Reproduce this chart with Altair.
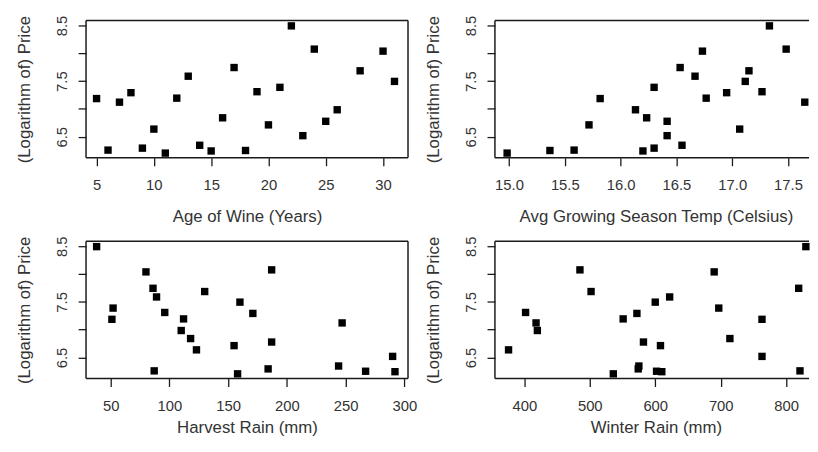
import altair as alt
import pandas as pd

# Bordeaux wine data
price = [7.4950, 8.0393, 7.6858, 6.9845, 6.7772, 8.0757, 6.5188, 8.4937, 7.3880, 6.7127,
         7.3094, 6.2518, 7.7443, 6.8398, 6.2435, 6.3459, 7.5883, 7.1934, 6.2049, 6.6367,
         6.2941, 7.2920, 7.1211, 6.2587, 7.1860]
age = [31, 30, 28, 26, 25, 24, 23, 22, 21, 20, 19, 18, 17, 16, 15, 14, 13, 12, 11, 10, 9, 8, 7, 6, 5]
agst = [17.1167, 16.7333, 17.1500, 16.1333, 16.4167, 17.4833, 16.4167, 17.3333, 16.3000, 15.7167,
        17.2667, 15.3667, 16.5333, 16.2333, 16.2000, 16.5500, 16.6667, 16.7667, 14.9833, 17.0667,
        16.3000, 16.9500, 17.6500, 15.5833, 15.8167]
harvest = [160, 80, 130, 110, 187, 187, 290, 38, 52, 155, 96, 267, 86, 118, 292, 244, 89, 112,
           158, 123, 184, 171, 247, 87, 51]
winter = [600, 690, 502, 420, 582, 485, 763, 830, 697, 608, 402, 602, 819, 714, 610, 575, 622,
          551, 536, 376, 574, 572, 418, 821, 763]

y_ticks = [6.5, 7, 7.5, 8, 8.5]
age_ticks = [5, 10, 15, 20, 25, 30]
agst_ticks = [15.0, 15.5, 16.0, 16.5, 17.0, 17.5]
harvest_ticks = [50, 100, 150, 200, 250, 300]
winter_ticks = [400, 500, 600, 700, 800]

df = pd.DataFrame({"price": price, "age": age, "agst": agst,
                   "harvest": harvest, "winter": winter})
one = pd.DataFrame({"k": [0]})

H = 139
LINE = "#1a1a1a"
Y_DOMAIN = [6.12, 8.59]


def panel(col, domain, ticks, title, width, right_border, title_pad, fmt):
    pts = alt.Chart(df).mark_square(size=56, color="black", opacity=1).encode(
        x=alt.X(f"{col}:Q",
                scale=alt.Scale(domain=domain, nice=False, zero=False),
                axis=alt.Axis(values=ticks, title=title, format=fmt, domain=False,
                              grid=False, tickSize=8, labelPadding=12,
                              titlePadding=title_pad, titleX=163,
                              labelFlush=False, labelOverlap=False)),
        y=alt.Y("price:Q",
                scale=alt.Scale(domain=Y_DOMAIN, nice=False, zero=False),
                axis=alt.Axis(values=y_ticks, title="(Logarithm of) Price",
                              labelExpr="datum.value == 7 || datum.value == 8 ? '' : format(datum.value, '.1f')",
                              labelAngle=270, labelAlign="center", labelBaseline="bottom",
                              labelPadding=9, titlePadding=21, domain=False, grid=False,
                              tickSize=8, labelOverlap=False, labelFlush=False)),
    )
    rule = alt.Chart(one).mark_rule(color=LINE, strokeWidth=1.5)
    top = rule.encode(x=alt.value(0), x2=alt.value(width), y=alt.value(0))
    left = rule.encode(x=alt.value(0), y=alt.value(0), y2=alt.value(H))
    bottom = rule.encode(x=alt.value(0), x2=alt.value(width), y=alt.value(H))
    layers = [pts, top, left, bottom]
    if right_border:
        layers.append(rule.encode(x=alt.value(width), y=alt.value(0), y2=alt.value(H)))
    return alt.layer(*layers).properties(width=width, height=H)


p1 = panel("age", [4.08, 32.18], age_ticks, "Age of Wine (Years)", 326, True, 16, "d")
p2 = panel("agst", [14.874, 17.688], agst_ticks, "Avg Growing Season Temp (Celsius)", 318, False, 16, ".1f")
p3 = panel("harvest", [28.97, 303.1], harvest_ticks, "Harvest Rain (mm)", 326, True, 7, "d")
p4 = panel("winter", [355.2, 834.8], winter_ticks, "Winter Rain (mm)", 318, False, 7, "d")

chart = alt.concat(p1, p2, p3, p4, columns=2, spacing={"row": 84.5, "column": 88},
                   bounds="flush").properties(
    padding={"left": 7, "top": 4, "right": 0, "bottom": 0}
).configure_view(stroke=None).configure_axis(
    labelFont="Liberation Sans", titleFont="Liberation Sans",
    labelFontSize=15, titleFontSize=17, labelColor="#333", titleColor="#333",
    tickColor=LINE, tickWidth=1.3, titleFontWeight="normal"
)

chart.save("out.html", embed_options={"renderer": "svg", "actions": False})
